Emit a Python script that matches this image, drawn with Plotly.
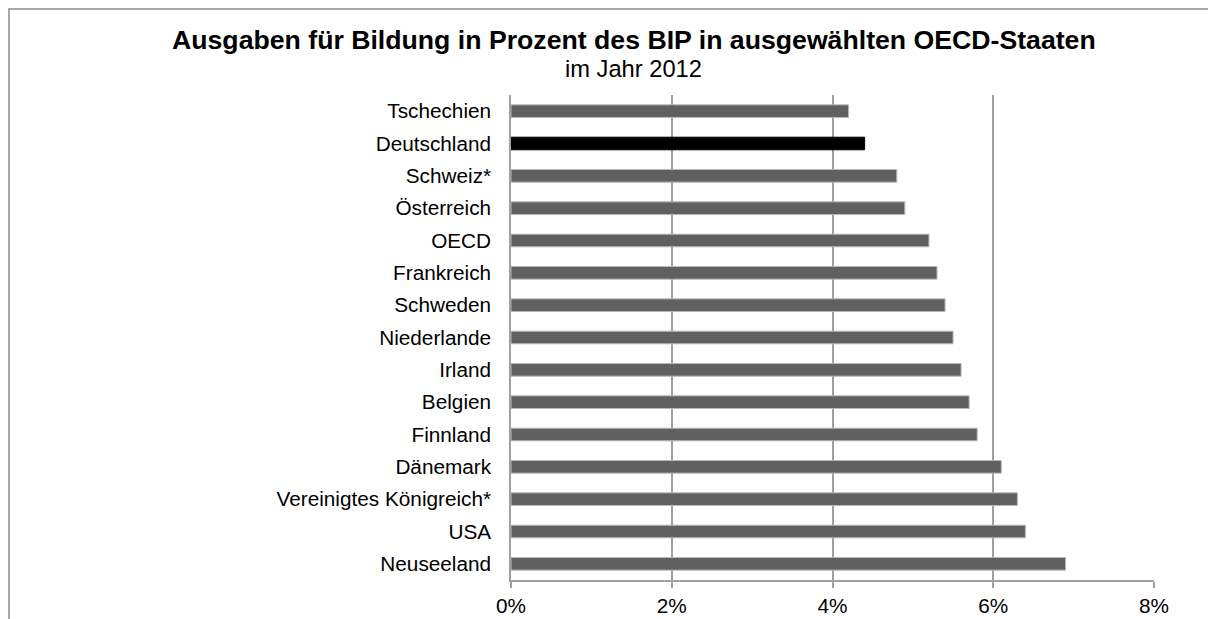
import plotly.graph_objects as go

countries = ["Tschechien", "Deutschland", "Schweiz*", "Österreich", "OECD", "Frankreich",
             "Schweden", "Niederlande", "Irland", "Belgien", "Finnland", "Dänemark",
             "Vereinigtes Königreich*", "USA", "Neuseeland"]
values = [4.2, 4.4, 4.8, 4.9, 5.2, 5.3, 5.4, 5.5, 5.6, 5.7, 5.8, 6.1, 6.3, 6.4, 6.9]
highlight = "Deutschland"
x_ticks = [0, 2, 4, 6, 8]
x_tick_labels = ["0%", "2%", "4%", "6%", "8%"]
title = "Ausgaben für Bildung in Prozent des BIP in ausgewählten OECD-Staaten"
subtitle = "im Jahr 2012"

W, H = 1208, 619
# plot area in window pixels
PX0, PX1, PY0, PY1 = 511, 1154, 95, 580
L, R, T, B = PX0, W - PX1, PY0, H - PY1
pw, ph = PX1 - PX0, PY1 - PY0


def px(xw):
    return (xw - PX0) / pw


def py(yw):
    return 1 + (PY0 - yw) / ph


colors = ["#000000" if c == highlight else "#606060" for c in countries]
line_colors = ["#000000" if c == highlight else "#b8b8b8" for c in countries]

fig = go.Figure(go.Bar(
    y=countries, x=values, orientation="h",
    marker=dict(color=colors, line=dict(color=line_colors, width=1)),
    hoverinfo="x+y",
))

font = "Liberation Sans, Arial, sans-serif"
fig.update_layout(
    width=W, height=H,
    margin=dict(l=L, r=R, t=T, b=B, pad=0, autoexpand=False),
    paper_bgcolor="white", plot_bgcolor="white",
    bargap=0.61,
    showlegend=False,
    font=dict(family=font, size=20.75, color="#000000"),
    xaxis=dict(
        range=[0, 8], tickvals=x_ticks, ticktext=x_tick_labels,
        showgrid=True, gridcolor="#a0a0a0", gridwidth=1.5,
        showline=True, linecolor="#a0a0a0", linewidth=1.5,
        ticks="outside", ticklen=6, tickcolor="#a0a0a0", tickwidth=1.5,
        automargin=False,
        zeroline=False, tickfont=dict(size=20.75, family=font),
        fixedrange=True,
    ),
    yaxis=dict(
        autorange="reversed",
        showline=True, linecolor="#a0a0a0", linewidth=1.5,
        showgrid=False, zeroline=False,
        ticks="", ticklabelstandoff=14,
        automargin=False,
        tickfont=dict(size=20.75, family=font),
        fixedrange=True,
    ),
    annotations=[
        dict(text="<b>" + title + "</b>", xref="paper", yref="paper",
             x=px(634.2), y=py(40.5), xanchor="center", yanchor="middle",
             showarrow=False, font=dict(size=26.67, family=font, color="#000000")),
        dict(text=subtitle, xref="paper", yref="paper",
             x=px(633.3), y=py(69.5), xanchor="center", yanchor="middle",
             showarrow=False, font=dict(size=23.7, family=font, color="#000000")),
    ],
    shapes=[
        dict(type="rect", xref="paper", yref="paper",
             x0=px(9), y0=-1, x1=2, y1=py(9),
             line=dict(color="#8c8c8c", width=1.5), fillcolor="rgba(0,0,0,0)", layer="below"),
    ],
)

fig.write_html(
    "out.html",
    config={"displayModeBar": False},
    post_script="document.body.style.margin='0';document.body.style.overflow='hidden';",
)
